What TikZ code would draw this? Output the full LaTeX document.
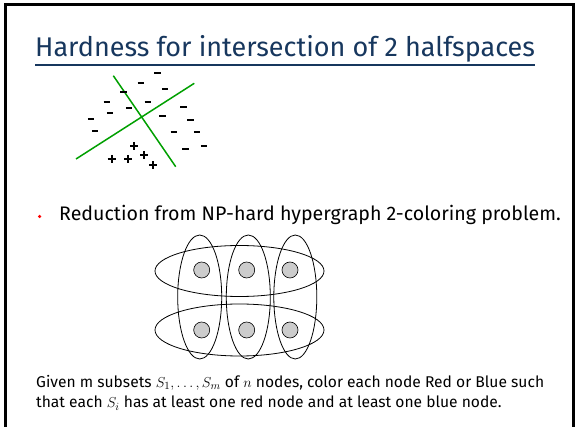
\documentclass[tikz,border=0pt]{standalone}
\usepackage{fontspec}
\setmainfont{Fira Sans}
\definecolor{titleblue}{RGB}{23,55,94}
\definecolor{hgreen}{RGB}{0,160,0}
\definecolor{nodegray}{RGB}{204,204,204}
\tikzset{
  sep/.style={line width=1.5pt, hgreen},
  sgn/.style={line width=2pt, black},
  setell/.style={draw=black, line width=0.8pt},
  elem/.style={circle, draw=black, line width=0.6pt, fill=nodegray, minimum size=16pt, inner sep=0pt},
  txt/.style={anchor=base west, inner sep=0pt},
}
\newcommand{\mns}[2]{\draw[sgn] (#1-3.2,#2) -- (#1+3.2,#2);}
\newcommand{\pls}[2]{\draw[sgn] (#1-4,#2) -- (#1+4,#2); \draw[sgn] (#1,#2-4) -- (#1,#2+4);}
\begin{document}
\begin{tikzpicture}[x=1pt,y=-1pt]
\useasboundingbox (0,0) rectangle (576,427);
\fill[white] (0,0) rectangle (576,427);
\draw[line width=3pt] (5,450) -- (5,5) -- (573.5,5) -- (573.5,450);
% title
\node[txt, text=titleblue, font=\fontsize{27}{31}\selectfont] (title) at (35,57) {Hardness for intersection of 2 halfspaces};
\draw[titleblue, line width=1.5pt] ([yshift=-8pt]title.base west) -- ([yshift=-8pt]title.base east);
% halfspaces
\draw[sep] (113.3,75.7) -- (175.7,166.7);
\draw[sep] (76,159) -- (194.3,83.3);
\mns{157.3}{72.7}\mns{140.7}{82.7}\mns{123.3}{91.7}\mns{165}{89}
\mns{106.7}{101.7}\mns{147.7}{101.7}\mns{129}{107.7}\mns{183.3}{106.7}
\mns{110}{113.3}\mns{162.3}{115.7}\mns{91}{119}\mns{190.3}{120}
\mns{95}{131}\mns{173.7}{132.3}\mns{197}{132.3}\mns{185.3}{149}\mns{204}{146}
\pls{134}{146}\pls{111.7}{159}\pls{128.3}{159.3}\pls{144}{155}\pls{153.3}{165.3}
% bullet
\node[circle, fill=red, inner sep=0pt, minimum size=3.5pt] (bul) at (39.7,216.5) {};
\node[txt, font=\fontsize{19.6}{23}\selectfont] (red) at (59,221) {Reduction from NP-hard hypergraph 2-coloring problem.};
% hypergraph
\draw[setell] (239.5,271) ellipse [x radius=84.5, y radius=25.5];
\draw[setell] (239.5,330) ellipse [x radius=84.5, y radius=26];
\draw[setell] (199.7,297) ellipse [x radius=22, y radius=62];
\draw[setell] (248.3,297) ellipse [x radius=22, y radius=62];
\draw[setell] (295.3,297) ellipse [x radius=21.5, y radius=62];
\node[elem] (a1) at (201.7,270) {};
\node[elem] (a2) at (246.7,270) {};
\node[elem] (a3) at (290,270) {};
\node[elem] (b1) at (201.7,330) {};
\node[elem] (b2) at (246.7,330) {};
\node[elem] (b3) at (290,330) {};
% caption
\node[txt, font=\fontsize{15.6}{18}\selectfont] (c1) at (36,387.6) {Given m subsets $S_1,\ldots,S_m$ of $n$ nodes, color each node Red or Blue such};
\node[txt, font=\fontsize{15.6}{18}\selectfont] (c2) at (36,407.8) {that each $S_i$ has at least one red node and at least one blue node.};
\end{tikzpicture}
\end{document}
